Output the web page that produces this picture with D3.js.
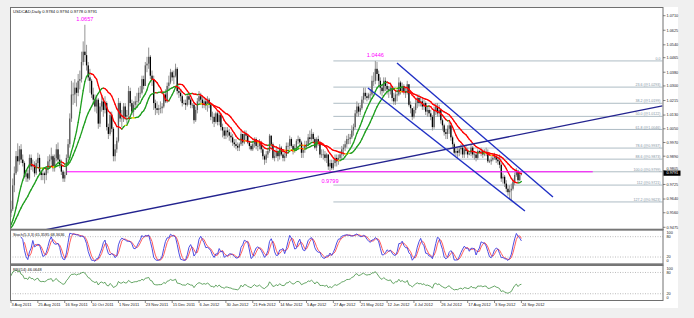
<!DOCTYPE html>
<html><head><meta charset="utf-8">
<script src="https://cdn.jsdelivr.net/npm/d3@7"></script>
<style>html,body{margin:0;padding:0;background:#f0f0f0;}svg{display:block;}</style>
</head><body><svg id="c" width="694" height="318"></svg>
<script>
// ---- DATA (prices in 1/10000) ----
const priorCloses = [9460,9450,9440,9430,9460,9480,9470,9460,9470,9450,9440,9460,9480,9470,9450,9460,9480,9500,9490,9520];
const firstOpen = 9560;
const closes = [9580,9720,9790,9890,9860,9930,9870,9850,9770,9790,
9760,9880,9830,9840,9790,9850,9880,9800,9780,9790,
9780,9810,9860,9870,9890,9820,9880,9930,9870,9840,
9800,9760,9780,9880,9960,10110,10250,10250,10290,10260,
10330,10340,10440,10500,10480,10420,10350,10330,10250,10220,
10180,10220,10080,10180,10210,10160,10200,10060,10020,10130,
10050,9890,9930,9980,10200,10110,10110,10180,10120,10130,
10270,10200,10150,10190,10210,10210,10260,10260,10340,10300,
10420,10430,10470,10360,10340,10200,10170,10160,10170,10170,
10180,10250,10210,10300,10320,10380,10350,10360,10400,10270,
10260,10240,10200,10200,10190,10240,10220,10190,10190,10100,
10160,10210,10240,10220,10190,10210,10190,10220,10190,10120,
10120,10090,10140,10090,10130,10060,10040,10010,10040,10030,
10010,10000,9970,9960,9950,9940,9960,10020,9970,10020,
10010,9970,9950,9930,9960,9990,9950,9950,9970,9930,
9890,9870,9900,9920,10010,9960,9880,9890,9920,9890,
9940,9900,9880,9890,9950,9950,9990,9950,9920,9940,
9980,9990,9970,9910,9930,9950,9960,10000,9990,10020,
9990,9940,9990,9970,9900,9900,9900,9880,9900,9830,
9850,9820,9850,9880,9860,9880,9900,9930,9940,9960,
9990,9990,10000,10040,10060,10140,10180,10150,10170,10220,
10260,10240,10230,10250,10250,10330,10330,10400,10370,10330,
10290,10270,10330,10300,10280,10270,10290,10230,10210,10250,
10250,10320,10270,10300,10270,10260,10310,10190,10170,10120,
10160,10200,10230,10200,10210,10180,10200,10150,10160,10140,
10120,10060,10160,10180,10140,10160,10100,10070,10030,10020,
10050,10070,10000,9960,9910,9920,9910,9930,9940,9900,
9930,9920,9900,9905,9940,9900,9900,9880,9920,9915,
9920,9900,9910,9910,9860,9860,9870,9880,9890,9870,
9860,9840,9760,9770,9730,9700,9680,9690,9700,9740,
9780,9805,9750,9784,9791];
const highs = [9630,9760,9830,9920,9965,9950,9960,9900,9860,9810,
9810,9900,9900,9870,9860,9870,9910,9900,9810,9820,
9800,9830,9890,9900,9940,9900,9900,9960,9970,9900,
9870,9810,9800,9900,9990,10140,10330,10320,10340,10320,
10370,10390,10500,10560,10657,10540,10440,10400,10340,10290,
10250,10240,10230,10200,10250,10230,10240,10210,10080,10150,
10150,10060,9960,10000,10230,10210,10160,10200,10200,10160,
10300,10290,10220,10210,10240,10260,10290,10300,10360,10360,
10440,10470,10524,10480,10390,10360,10220,10210,10190,10210,
10200,10270,10280,10320,10360,10400,10390,10390,10430,10410,
10300,10280,10250,10220,10220,10250,10250,10230,10200,10200,
10180,10230,10270,10260,10240,10230,10230,10240,10230,10200,
10150,10140,10150,10150,10150,10140,10080,10060,10060,10060,
10050,10030,10020,9990,9990,9970,9970,10040,10020,10040,
10040,10020,9980,9960,9980,10000,10000,9970,9990,9980,
9950,9900,9920,9940,10020,10010,9970,9920,9940,9930,
9960,9950,9920,9910,9970,9970,10010,10000,9960,9960,
9990,10010,10000,9980,9950,9980,9980,10020,10040,10050,
10030,10000,10000,10010,9980,9930,9930,9920,9910,9900,
9870,9870,9870,9900,9900,9900,9920,9950,9960,9980,
10010,10020,10020,10070,10080,10160,10210,10200,10190,10240,
10290,10290,10260,10260,10280,10360,10380,10446,10440,10390,
10350,10310,10350,10350,10320,10300,10320,10300,10260,10270,
10280,10350,10330,10320,10310,10290,10330,10310,10210,10170,
10180,10220,10250,10250,10240,10230,10220,10210,10180,10180,
10160,10130,10180,10200,10200,10190,10170,10110,10080,10050,
10070,10090,10080,10010,9970,9940,9940,9950,9960,9950,
9940,9950,9940,9910,9960,9950,9920,9910,9930,9925,
9940,9930,9930,9940,9930,9870,9890,9900,9910,9900,
9890,9900,9850,9790,9780,9750,9720,9720,9730,9760,
9795,9820,9810,9795,9794];
const lows = [9535,9570,9680,9780,9800,9840,9850,9830,9760,9740,
9740,9750,9810,9800,9770,9780,9830,9780,9750,9750,
9730,9750,9790,9830,9840,9800,9800,9860,9850,9820,
9780,9740,9740,9790,9860,9940,10090,10190,10200,10180,
10240,10280,10320,10420,10440,10390,10330,10260,10230,10190,
10150,10140,10050,10060,10150,10120,10140,10040,9990,10010,
10030,9860,9860,9910,9970,10090,10060,10090,10100,10080,
10110,10180,10130,10120,10160,10180,10200,10230,10250,10280,
10300,10380,10400,10340,10300,10160,10130,10140,10130,10140,
10140,10170,10200,10200,10280,10310,10330,10310,10350,10250,
10230,10210,10180,10190,10160,10180,10190,10170,10170,10080,
10090,10140,10200,10190,10170,10170,10160,10150,10170,10100,
10080,10060,10080,10070,10070,10040,10000,9990,9990,10000,
9980,9970,9950,9940,9930,9920,9920,9950,9950,9960,
9980,9960,9930,9920,9920,9940,9930,9920,9930,9910,
9870,9840,9850,9880,9910,9940,9870,9860,9880,9860,
9870,9890,9860,9860,9880,9920,9930,9940,9900,9910,
9920,9960,9950,9880,9880,9910,9930,9950,9970,9980,
9970,9930,9920,9950,9880,9880,9870,9860,9850,9810,
9799,9810,9810,9830,9830,9840,9860,9870,9890,9920,
9940,9960,9960,9990,10010,10050,10120,10120,10130,10160,
10200,10220,10210,10220,10210,10240,10300,10310,10330,10300,
10250,10240,10260,10270,10250,10230,10250,10210,10190,10190,
10210,10240,10250,10260,10250,10230,10250,10180,10140,10100,
10110,10140,10170,10180,10180,10160,10160,10130,10120,10120,
10100,10040,10050,10130,10120,10120,10080,10040,10010,9990,
9990,10020,9980,9940,9900,9890,9880,9890,9900,9880,
9880,9900,9880,9895,9890,9880,9870,9860,9870,9905,
9890,9880,9890,9890,9850,9850,9840,9860,9870,9850,
9840,9820,9740,9730,9710,9680,9660,9640,9633,9690,
9720,9770,9735,9745,9778];

const dateLabels = ["3 Aug 2011","25 Aug 2011","16 Sep 2011","10 Oct 2011","1 Nov 2011","23 Nov 2011","15 Dec 2011","6 Jan 2012","30 Jan 2012","21 Feb 2012","14 Mar 2012","5 Apr 2012","27 Apr 2012","21 May 2012","12 Jun 2012","4 Jul 2012","26 Jul 2012","17 Aug 2012","3 Sep 2012","24 Sep 2012"];
const barsPerLabel = 16;
const priceTicks = ["1.0710","1.0625","1.0540","1.0465","1.0380","1.0300","1.0215","1.0130","1.0050","0.9970","0.9890","0.9805","0.9725","0.9640","0.9560","0.9475"];
const lastPrice = 0.9791;
const headerText = "USDCAD,Daily  0.9784 0.9794 0.9778 0.9791";
const stochText = "Stoch(5,3,3) 65.3595 68.3636";
const rsiText = "RSI(14) 46.0648";
const oscLevels = [100,80,20,0];
const oscGuides = [80,20];
const fibHigh = 1.0446, fibLow = 0.9799, fibStartBar = 192, fibEndBar = 388;
const fibLevels = [0,23.6,38.2,50,61.8,78.6,88.6,100,112,127.2];
const fibNames = ["0.0","23.6","38.2","50.0","61.8","78.6","88.6","100.0","112","127.2"];
const trendLines = [
  {b1:0, p1:0.9420, b2:388, p2:1.0184, color:"#23238f"},
  {b1:229.9, p1:1.0434, b2:322.8, p2:0.9652, color:"#1f2fc4"},
  {b1:212.6, p1:1.0288, b2:306.1, p2:0.9570, color:"#1f2fc4"}
];
const hLine = {b1:33.2, b2:346.5, p:0.9799};
const peakLabels = [{b:44, p:1.0657, t:"1.0657", pos:"above"},{b:217, p:1.0446, t:"1.0446", pos:"above"},{b:190, p:0.9799, t:"0.9799", pos:"below"}];
const maPeriods = [10, 20];

// ---- DERIVED ----
const N = closes.length;
const P = v => v/10000;
const bars = closes.map((c,i)=>{
  const o = i===0 ? firstOpen : closes[i-1];
  return {i, o:P(o), c:P(c), h:P(Math.max(highs[i],o,c)), l:P(Math.min(lows[i],o,c))};
});
const allC = priorCloses.concat(closes).map(P);
const off = priorCloses.length;
function sma(arr,n){return arr.map((v,i)=> i<n-1?null:d3.mean(arr.slice(i-n+1,i+1)));}
const mas = maPeriods.map(n=>sma(allC,n).slice(off));
function rsi(arr,n){
  const out=new Array(arr.length).fill(null); let g=0,l=0;
  for(let i=1;i<=n;i++){const d=arr[i]-arr[i-1]; if(d>0)g+=d; else l-=d;}
  g/=n;l/=n; out[n]=l===0?100:100-100/(1+g/l);
  for(let i=n+1;i<arr.length;i++){const d=arr[i]-arr[i-1]; g=(g*(n-1)+Math.max(d,0))/n; l=(l*(n-1)+Math.max(-d,0))/n; out[i]=l===0?100:100-100/(1+g/l);}
  return out;
}
const rsiV = rsi(allC,14).slice(off);
const kRaw=[], K=[], D=[];
for(let i=0;i<N;i++){
  if(i<4){kRaw.push(null);continue;}
  const ll=d3.min(bars.slice(i-4,i+1),d=>d.l), hh=d3.max(bars.slice(i-4,i+1),d=>d.h);
  kRaw.push({num:bars[i].c-ll, den:hh-ll});
}
for(let i=0;i<N;i++){
  if(i<6){K.push(null);continue;}
  const s=kRaw.slice(i-2,i+1); const num=d3.sum(s,d=>d.num), den=d3.sum(s,d=>d.den);
  K.push(den===0?50:100*num/den);
}
for(let i=0;i<N;i++){ D.push(i<8?null:d3.mean(K.slice(i-2,i+1))); }

// ---- LAYOUT ----
const svg = d3.select('#c');
const F = "'Liberation Sans', Arial, sans-serif";
const L=10, R=663, T=7, MB=229, ST=230, SB=264, RT=265.5, RB=300.5;
const x = d3.scaleLinear().domain([0,304]).range([11,521.4]);
const yP = d3.scaleLinear().domain([0.9475,1.0710]).range([227.3,15.7]);
const yS = d3.scaleLinear().domain([0,100]).range([263.8,229.9]);
const yR = d3.scaleLinear().domain([0,100]).range([300.8,265.4]);

svg.append('rect').attr('x',L).attr('y',T).attr('width',668).attr('height',301).attr('fill','#fff');
const defs = svg.append('defs');
[['cm',T,MB],['cs',ST,SB],['cr',RT,RB]].forEach(([id,a,b])=>{
  defs.append('clipPath').attr('id',id).append('rect').attr('x',L).attr('y',a).attr('width',R-L).attr('height',b-a);
});

const main = svg.append('g').attr('clip-path','url(#cm)');
// fib
const fib = main.append('g');
fibLevels.forEach((lv,k)=>{
  const p = fibHigh - lv/100*(fibHigh-fibLow);
  fib.append('line').attr('x1',x(fibStartBar)).attr('x2',x(fibEndBar)).attr('y1',yP(p)).attr('y2',yP(p))
    .attr('stroke','#aebcc4').attr('stroke-width',1);
  fib.append('text').attr('x',x(fibEndBar)-2).attr('y',yP(p)-0.9).attr('text-anchor','end')
    .attr('font-family',F).attr('font-size',3.6).attr('fill','#7f93a3')
    .text(k===0? fibNames[k] : fibNames[k]+" (@"+p.toFixed(4)+")");
});
// candles
const cg = main.append('g');
cg.selectAll('line.w').data(bars).join('line').attr('class','w')
  .attr('x1',d=>x(d.i)).attr('x2',d=>x(d.i)).attr('y1',d=>yP(d.h)).attr('y2',d=>yP(d.l))
  .attr('stroke','#959595').attr('stroke-width',1);
cg.selectAll('rect.b').data(bars).join('rect').attr('class','b')
  .attr('x',d=>x(d.i)-0.65).attr('width',1.3)
  .attr('y',d=>yP(Math.max(d.o,d.c))).attr('height',d=>Math.max(0.7,yP(Math.min(d.o,d.c))-yP(Math.max(d.o,d.c))))
  .attr('fill',d=>d.c>=d.o?'#5a5a5a':'#000');
// MAs
const mg = main.append('g');
mas.forEach(ma=>{
  const segs=[];
  for(let i=1;i<N;i++){ if(ma[i]==null||ma[i-1]==null) continue;
    const dlt=ma[i]-ma[i-1];
    segs.push({a:i-1,b:i,va:ma[i-1],vb:ma[i],col: dlt>0.00008?'#1e9e1e':(dlt<-0.00008?'#ff0000':'#ecdc00')});
  }
  mg.selectAll(null).data(segs).join('line')
    .attr('x1',d=>x(d.a)).attr('x2',d=>x(d.b)).attr('y1',d=>yP(d.va)).attr('y2',d=>yP(d.vb))
    .attr('stroke',d=>d.col).attr('stroke-width',1.3).attr('stroke-linecap','round');
});
// magenta horizontal
main.append('line').attr('x1',x(hLine.b1)).attr('x2',x(hLine.b2)).attr('y1',yP(hLine.p)).attr('y2',yP(hLine.p))
  .attr('stroke','#ff00ff').attr('stroke-width',1);
// trend lines
main.selectAll('line.t').data(trendLines).join('line').attr('class','t')
  .attr('x1',d=>x(d.b1)).attr('x2',d=>x(d.b2)).attr('y1',d=>yP(d.p1)).attr('y2',d=>yP(d.p2))
  .attr('stroke',d=>d.color).attr('stroke-width',1.4);
// peak labels
main.selectAll('text.pk').data(peakLabels).join('text').attr('class','pk')
  .attr('x',d=>x(d.b)).attr('y',d=>d.pos==='above'?yP(d.p)-4:yP(d.p)+11)
  .attr('text-anchor','middle').attr('font-family',F).attr('font-size',5.6).attr('fill','#ff00ff').text(d=>d.t);
svg.append('text').attr('x',13).attr('y',12.8).attr('font-family',F).attr('font-size',4.2).attr('fill','#111').text(headerText);

// stochastic
const sg = svg.append('g').attr('clip-path','url(#cs)');
oscGuides.forEach(v=>sg.append('line').attr('x1',L).attr('x2',R).attr('y1',yS(v)).attr('y2',yS(v))
  .attr('stroke','#a0a0a0').attr('stroke-width',0.7).attr('stroke-dasharray','1,1.5'));
const lineS = (arr)=>d3.line().defined(d=>d!=null).x((d,i)=>x(i)).y(d=>yS(d))(arr);
sg.append('path').attr('d',lineS(D)).attr('fill','none').attr('stroke','#ff4a4a').attr('stroke-width',0.9);
sg.append('path').attr('d',lineS(K)).attr('fill','none').attr('stroke','#3a3ae0').attr('stroke-width',0.9);
svg.append('text').attr('x',13).attr('y',235.6).attr('font-family',F).attr('font-size',3.9).attr('fill','#111').text(stochText);

// RSI
const rg = svg.append('g').attr('clip-path','url(#cr)');
oscGuides.forEach(v=>rg.append('line').attr('x1',L).attr('x2',R).attr('y1',yR(v)).attr('y2',yR(v))
  .attr('stroke','#a0a0a0').attr('stroke-width',0.7).attr('stroke-dasharray','1,1.5'));
rg.append('path').attr('d',d3.line().defined(d=>d!=null).x((d,i)=>x(i)).y(d=>yR(d))(rsiV))
  .attr('fill','none').attr('stroke','#3f8f3f').attr('stroke-width',0.8);
svg.append('text').attr('x',13).attr('y',271).attr('font-family',F).attr('font-size',3.9).attr('fill','#111').text(rsiText);

// frames
const fr = svg.append('g').attr('fill','none').attr('stroke','#707070');
fr.append('rect').attr('x',L+0.5).attr('y',T+0.5).attr('width',R-L-0.5).attr('height',MB-T);
fr.append('rect').attr('x',L+0.5).attr('y',ST).attr('width',R-L-0.5).attr('height',SB-ST);
fr.append('rect').attr('x',L+0.5).attr('y',RT).attr('width',R-L-0.5).attr('height',RB-RT);
[[MB,ST],[SB,RT]].forEach(([a,b])=>{
  svg.append('rect').attr('x',L).attr('y',a-0.3).attr('width',R-L+0.5).attr('height',b-a+0.6).attr('fill','#777');
});

// price axis
const ax = svg.append('g').attr('font-family',F).attr('font-size',3.8).attr('fill','#222');
const by = yP(lastPrice);
priceTicks.forEach(t=>{
  const yy=yP(+t);
  const ty = Math.abs(yy-by)<4 ? by-4.7 : yy;
  ax.append('line').attr('x1',R).attr('x2',R+2.5).attr('y1',yy).attr('y2',yy).attr('stroke','#555').attr('stroke-width',0.7);
  ax.append('text').attr('x',R+3.5).attr('y',ty).attr('dy','0.35em').text(t);
});
svg.append('rect').attr('x',R+0.5).attr('y',by-2.6).attr('width',17).attr('height',5.2).attr('fill','#000');
svg.append('text').attr('x',R+3.5).attr('y',by).attr('dy','0.35em').attr('font-family',F).attr('font-size',3.8).attr('fill','#fff').text(lastPrice.toFixed(4));
// osc axes
oscLevels.forEach(v=>{
  const y1=Math.min(Math.max(yS(v),232.3),260.3), y2=Math.min(Math.max(yR(v),268.2),297.4);
  ax.append('text').attr('x',R+3.5).attr('y',y1).attr('dy','0.35em').text(v);
  ax.append('text').attr('x',R+3.5).attr('y',y2).attr('dy','0.35em').text(v);
});
// date axis
const dg = svg.append('g').attr('font-family',F).attr('font-size',4).attr('fill','#222');
dateLabels.forEach((t,k)=>{
  const xx=x(k*barsPerLabel);
  dg.append('line').attr('x1',xx).attr('x2',xx).attr('y1',RB).attr('y2',RB+2.5).attr('stroke','#555').attr('stroke-width',0.7);
  dg.append('text').attr('x',xx+0.5).attr('y',306.3).text(t);
});
</script></body></html>
